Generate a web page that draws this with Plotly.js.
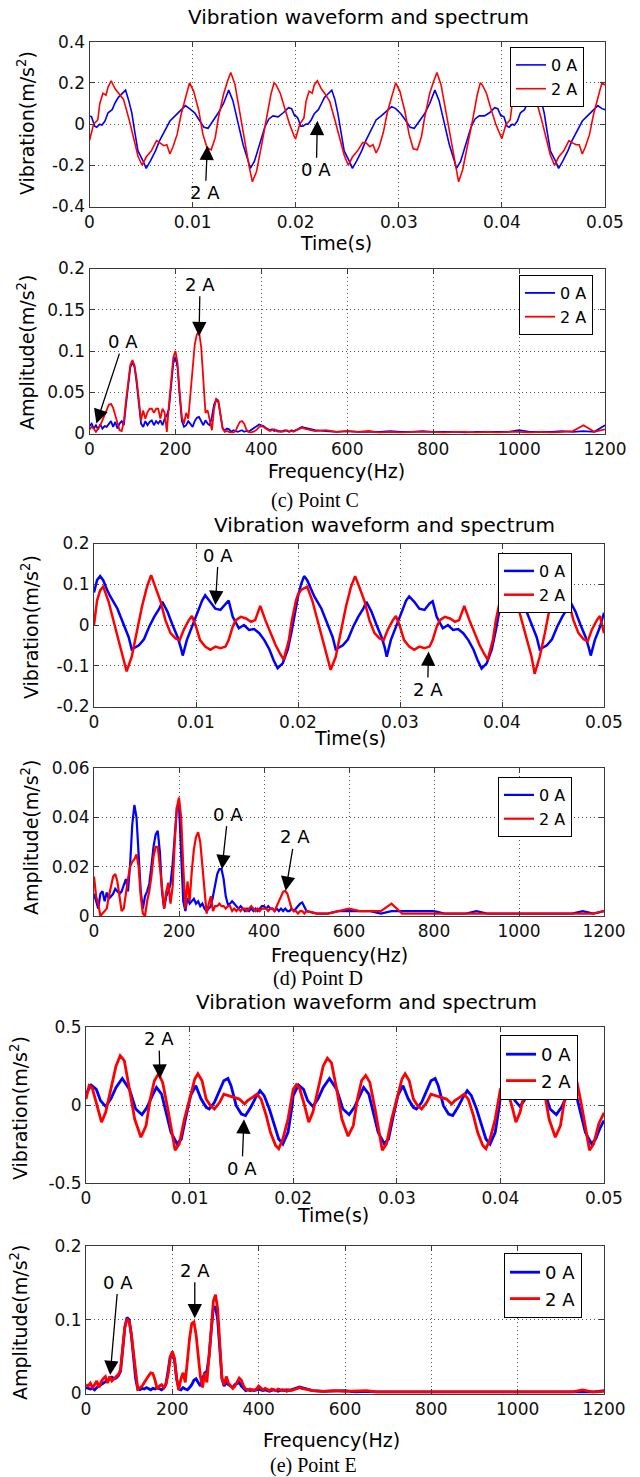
<!DOCTYPE html>
<html><head><meta charset="utf-8">
<script src="https://cdn.plot.ly/plotly-3.0.1.min.js"></script>
<style>html,body{margin:0;padding:0;background:#fff}#chart{width:640px;height:1477px}</style>
</head><body><div id="chart"></div>
<script>
// ---------------- DATA ----------------
// Point C waveform (time s, vibration m/s^2)
const tC0 = [0,0.0002,0.0005,0.0007,0.0010,0.0012,0.0015,0.0018,0.0022,0.0025,0.0028,0.0031,0.0035,0.0038,0.0041,0.0044,0.0047,0.0052,0.0055,0.0059,0.0064,0.0068,0.0073,0.0078,0.0083,0.0088,0.0093,0.0097,0.0102,0.0107,0.0111,0.0115,0.0120,0.0125,0.0130,0.0133,0.0135,0.0139,0.0144,0.0149,0.0154,0.0156,0.0160,0.0165,0.0170,0.0174,0.0178,0.0183,0.0188,0.0193,0.0196,0.0199,
0.0200,0.0202,0.0205,0.0207,0.0210,0.0212,0.0215,0.0218,0.0222,0.0225,0.0228,0.0231,0.0235,0.0238,0.0241,0.0244,0.0247,0.0252,0.0255,0.0259,0.0264,0.0268,0.0273,0.0278,0.0283,0.0288,0.0293,0.0297,0.0302,0.0307,0.0311,0.0315,0.0320,0.0325,0.0330,0.0333,0.0335,0.0339,0.0344,0.0349,0.0354,0.0356,0.0360,0.0365,0.0370,0.0374,0.0378,0.0383,0.0388,0.0393,0.0396,0.0399,
0.0400,0.0402,0.0405,0.0407,0.0410,0.0412,0.0415,0.0418,0.0422,0.0425,0.0428,0.0431,0.0435,0.0438,0.0441,0.0444,0.0447,0.0452,0.0455,0.0459,0.0464,0.0468,0.0473,0.0478,0.0483,0.0488,0.0493,0.0497,0.0500];
const vC0 = [0.04,0.035,-0.01,-0.015,0.00,-0.005,0.015,0.055,0.07,0.105,0.13,0.145,0.165,0.115,0.055,-0.04,-0.13,-0.18,-0.215,-0.18,-0.13,-0.08,-0.03,0.015,0.04,0.065,0.09,0.075,0.055,0.015,-0.015,-0.02,0.015,0.055,0.10,0.145,0.165,0.115,0.015,-0.10,-0.18,-0.215,-0.18,-0.10,-0.015,0.025,0.04,0.035,0.055,0.08,0.075,0.04,
0.04,0.03,-0.01,-0.01,0.00,0.00,0.02,0.05,0.07,0.10,0.13,0.145,0.165,0.12,0.05,-0.04,-0.13,-0.18,-0.215,-0.18,-0.13,-0.08,-0.03,0.02,0.04,0.065,0.085,0.075,0.05,0.015,-0.015,-0.02,0.015,0.05,0.10,0.14,0.165,0.115,0.01,-0.10,-0.18,-0.215,-0.18,-0.10,-0.015,0.025,0.04,0.04,0.055,0.08,0.075,0.04,
0.04,0.035,-0.01,-0.015,0.00,-0.005,0.015,0.055,0.07,0.105,0.13,0.145,0.165,0.115,0.055,-0.04,-0.13,-0.18,-0.215,-0.18,-0.13,-0.08,-0.03,0.015,0.04,0.065,0.09,0.075,0.07];
const tC2 = [0,0.0004,0.0008,0.0010,0.0013,0.0016,0.0018,0.0021,0.0025,0.0028,0.0033,0.0038,0.0043,0.0047,0.0051,0.0055,0.0060,0.0065,0.0068,0.0072,0.0075,0.0078,0.0081,0.0085,0.0089,0.0094,0.0097,0.0101,0.0106,0.0110,0.0114,0.0118,0.0122,0.0125,0.0130,0.0134,0.0137,0.0141,0.0146,0.0151,0.0155,0.0158,0.0162,0.0167,0.0172,0.0176,0.0179,0.0181,0.0185,0.0189,0.0194,0.0199,
0.0200,0.0204,0.0208,0.0210,0.0213,0.0216,0.0218,0.0221,0.0225,0.0228,0.0233,0.0238,0.0243,0.0247,0.0251,0.0255,0.0260,0.0265,0.0268,0.0272,0.0275,0.0278,0.0281,0.0285,0.0289,0.0294,0.0297,0.0301,0.0306,0.0310,0.0314,0.0318,0.0322,0.0325,0.0330,0.0334,0.0337,0.0341,0.0346,0.0351,0.0355,0.0358,0.0362,0.0367,0.0372,0.0376,0.0379,0.0381,0.0385,0.0389,0.0394,0.0399,
0.0400,0.0404,0.0408,0.0410,0.0413,0.0416,0.0418,0.0421,0.0425,0.0428,0.0433,0.0438,0.0443,0.0447,0.0451,0.0455,0.0460,0.0465,0.0468,0.0472,0.0475,0.0478,0.0481,0.0485,0.0489,0.0494,0.0497,0.0500];
const vC2 = [-0.08,0.00,0.02,0.10,0.15,0.14,0.18,0.21,0.17,0.15,0.12,0.03,-0.065,-0.155,-0.20,-0.16,-0.13,-0.08,-0.09,-0.105,-0.10,-0.145,-0.11,-0.05,0.05,0.15,0.20,0.16,0.065,-0.05,-0.115,-0.125,-0.065,0.03,0.145,0.21,0.25,0.195,0.05,-0.10,-0.21,-0.28,-0.23,-0.10,0.03,0.145,0.20,0.19,0.15,0.08,0.00,-0.065,
-0.07,0.00,0.03,0.11,0.16,0.15,0.19,0.21,0.17,0.15,0.11,0.02,-0.07,-0.15,-0.20,-0.16,-0.13,-0.09,-0.09,-0.11,-0.10,-0.14,-0.11,-0.04,0.06,0.15,0.20,0.16,0.06,-0.05,-0.12,-0.125,-0.06,0.03,0.15,0.21,0.25,0.19,0.05,-0.10,-0.21,-0.28,-0.22,-0.10,0.03,0.14,0.20,0.19,0.15,0.08,0.00,-0.06,
-0.07,0.00,0.02,0.10,0.15,0.15,0.18,0.21,0.17,0.15,0.12,0.03,-0.07,-0.15,-0.20,-0.16,-0.13,-0.08,-0.09,-0.10,-0.10,-0.145,-0.11,-0.05,0.05,0.15,0.20,0.19];

// Point D waveform
const tD0 = [0.0000,0.0003,0.0006,0.0009,0.0013,0.0016,0.0023,0.0029,0.0034,0.0037,0.0041,0.0044,0.0049,0.0054,0.0059,0.0064,0.0067,0.0072,0.0077,0.0082,0.0085,0.0087,0.0091,0.0096,0.0101,0.0106,0.0109,0.0114,0.0119,0.0124,0.0129,0.0132,0.0136,0.0142,0.0147,0.0152,0.0157,0.0162,0.0167,0.0172,0.0176,0.0180,0.0185,0.0190,0.0194,0.0198,
0.0200,0.0203,0.0206,0.0209,0.0213,0.0216,0.0223,0.0229,0.0234,0.0237,0.0241,0.0244,0.0249,0.0254,0.0259,0.0264,0.0267,0.0272,0.0277,0.0282,0.0285,0.0287,0.0291,0.0296,0.0301,0.0306,0.0309,0.0314,0.0319,0.0324,0.0329,0.0332,0.0336,0.0342,0.0347,0.0352,0.0357,0.0362,0.0367,0.0372,0.0376,0.0380,0.0385,0.0390,0.0394,0.0398,
0.0400,0.0403,0.0406,0.0409,0.0413,0.0416,0.0423,0.0429,0.0434,0.0437,0.0441,0.0444,0.0449,0.0454,0.0459,0.0464,0.0467,0.0472,0.0477,0.0482,0.0485,0.0487,0.0491,0.0496,0.0500];
const vD0 = [0.08,0.11,0.12,0.11,0.085,0.07,0.04,0.00,-0.03,-0.06,-0.055,-0.05,-0.035,-0.005,0.02,0.04,0.057,0.033,0.00,-0.03,-0.055,-0.075,-0.037,-0.005,0.03,0.06,0.073,0.057,0.04,0.037,0.053,0.06,0.02,-0.008,0.00,-0.012,-0.01,-0.02,-0.037,-0.06,-0.086,-0.106,-0.094,-0.06,-0.012,0.045,
0.07,0.10,0.12,0.11,0.085,0.07,0.04,0.00,-0.03,-0.06,-0.055,-0.05,-0.035,-0.005,0.02,0.04,0.057,0.033,0.00,-0.03,-0.055,-0.078,-0.037,-0.005,0.03,0.06,0.07,0.057,0.04,0.037,0.053,0.058,0.02,-0.008,0.00,-0.012,-0.01,-0.02,-0.037,-0.06,-0.086,-0.107,-0.094,-0.06,-0.012,0.045,
0.07,0.10,0.12,0.11,0.085,0.07,0.04,0.00,-0.03,-0.06,-0.055,-0.05,-0.035,-0.005,0.02,0.04,0.057,0.033,0.00,-0.03,-0.055,-0.075,-0.037,-0.005,0.03];
const tD2 = [0.0000,0.0003,0.0006,0.0009,0.0014,0.0019,0.0024,0.0029,0.0032,0.0037,0.0042,0.0047,0.0052,0.0056,0.0060,0.0065,0.0070,0.0075,0.0080,0.0084,0.0088,0.0093,0.0096,0.0100,0.0104,0.0109,0.0114,0.0119,0.0124,0.0129,0.0132,0.0136,0.0139,0.0144,0.0149,0.0154,0.0158,0.0163,0.0168,0.0173,0.0178,0.0183,0.0186,0.0191,0.0194,0.0198,
0.0200,0.0203,0.0206,0.0209,0.0214,0.0219,0.0224,0.0229,0.0232,0.0237,0.0242,0.0247,0.0252,0.0256,0.0260,0.0265,0.0270,0.0275,0.0280,0.0284,0.0288,0.0293,0.0296,0.0300,0.0304,0.0309,0.0314,0.0319,0.0324,0.0329,0.0332,0.0336,0.0339,0.0344,0.0349,0.0354,0.0358,0.0363,0.0368,0.0373,0.0378,0.0383,0.0386,0.0391,0.0394,0.0398,
0.0400,0.0403,0.0406,0.0409,0.0414,0.0419,0.0424,0.0429,0.0432,0.0437,0.0442,0.0447,0.0452,0.0456,0.0460,0.0465,0.0470,0.0475,0.0480,0.0484,0.0488,0.0493,0.0496,0.0500];
const vD2 = [0.00,0.06,0.085,0.094,0.06,0.012,-0.037,-0.078,-0.114,-0.078,-0.02,0.045,0.094,0.122,0.094,0.06,0.012,-0.02,-0.033,-0.037,-0.012,0.012,0.022,-0.004,-0.037,-0.053,-0.061,-0.053,-0.057,-0.053,-0.037,-0.004,0.012,0.02,0.016,0.008,0.012,0.047,0.012,-0.02,-0.049,-0.073,-0.085,-0.037,0.012,0.06,
0.075,0.086,0.09,0.094,0.06,0.012,-0.037,-0.078,-0.11,-0.078,-0.02,0.045,0.094,0.12,0.094,0.06,0.012,-0.02,-0.033,-0.037,-0.012,0.012,0.022,-0.004,-0.037,-0.053,-0.061,-0.053,-0.057,-0.053,-0.037,-0.004,0.012,0.02,0.016,0.008,0.012,0.047,0.012,-0.02,-0.049,-0.073,-0.085,-0.037,0.012,0.06,
0.075,0.086,0.09,0.094,0.06,0.012,-0.037,-0.078,-0.12,-0.078,-0.02,0.045,0.094,0.12,0.094,0.06,0.012,-0.02,-0.035,-0.04,-0.012,0.012,0.022,-0.02];

// Point E waveform
const tE0 = [0.0000,0.0005,0.0010,0.0014,0.0019,0.0024,0.0029,0.0035,0.0042,0.0048,0.0054,0.0059,0.0064,0.0068,0.0073,0.0077,0.0082,0.0088,0.0092,0.0096,0.0101,0.0106,0.0111,0.0116,0.0119,0.0124,0.0129,0.0133,0.0137,0.0140,0.0145,0.0150,0.0154,0.0159,0.0164,0.0168,0.0172,0.0177,0.0182,0.0186,0.0190,0.0195,0.0199,
0.0200,0.0205,0.0210,0.0214,0.0219,0.0224,0.0229,0.0235,0.0242,0.0248,0.0254,0.0259,0.0264,0.0268,0.0273,0.0277,0.0282,0.0288,0.0292,0.0296,0.0301,0.0306,0.0311,0.0316,0.0319,0.0324,0.0329,0.0333,0.0337,0.0340,0.0345,0.0350,0.0354,0.0359,0.0364,0.0368,0.0372,0.0377,0.0382,0.0386,0.0390,0.0395,0.0399,
0.0400,0.0405,0.0410,0.0414,0.0419,0.0424,0.0429,0.0435,0.0442,0.0448,0.0454,0.0459,0.0464,0.0468,0.0473,0.0477,0.0482,0.0488,0.0492,0.0496,0.0500];
const vE0 = [0.07,0.128,0.10,0.028,-0.01,0.04,0.113,0.17,0.10,-0.026,-0.062,-0.015,0.06,0.113,0.07,-0.047,-0.175,-0.25,-0.218,-0.09,0.06,0.124,0.04,-0.015,-0.026,0.017,0.092,0.156,0.17,0.124,-0.004,-0.058,-0.068,-0.015,0.05,0.092,0.06,-0.026,-0.132,-0.218,-0.25,-0.175,-0.004,
0.06,0.128,0.10,0.028,-0.01,0.04,0.113,0.17,0.10,-0.026,-0.062,-0.015,0.06,0.113,0.07,-0.047,-0.175,-0.25,-0.218,-0.09,0.06,0.124,0.04,-0.015,-0.026,0.017,0.092,0.156,0.17,0.124,-0.004,-0.058,-0.068,-0.015,0.05,0.092,0.06,-0.026,-0.132,-0.218,-0.25,-0.175,-0.004,
0.06,0.128,0.10,0.028,-0.01,0.04,0.113,0.17,0.10,-0.026,-0.062,-0.015,0.06,0.113,0.07,-0.047,-0.175,-0.25,-0.218,-0.15,-0.10];
const tE2 = [0.0000,0.0003,0.0006,0.0011,0.0015,0.0019,0.0024,0.0029,0.0033,0.0037,0.0042,0.0047,0.0053,0.0058,0.0062,0.0066,0.0070,0.0074,0.0079,0.0083,0.0086,0.0090,0.0095,0.0100,0.0105,0.0108,0.0112,0.0116,0.0120,0.0124,0.0129,0.0133,0.0138,0.0143,0.0148,0.0153,0.0156,0.0161,0.0165,0.0169,0.0174,0.0178,0.0183,0.0186,0.0190,0.0195,0.0199,
0.0200,0.0203,0.0206,0.0211,0.0215,0.0219,0.0224,0.0229,0.0233,0.0237,0.0242,0.0247,0.0253,0.0258,0.0262,0.0266,0.0270,0.0274,0.0279,0.0283,0.0286,0.0290,0.0295,0.0300,0.0305,0.0308,0.0312,0.0316,0.0320,0.0324,0.0329,0.0333,0.0338,0.0343,0.0348,0.0353,0.0356,0.0361,0.0365,0.0369,0.0374,0.0378,0.0383,0.0386,0.0390,0.0395,0.0399,
0.0400,0.0403,0.0406,0.0411,0.0415,0.0419,0.0424,0.0429,0.0433,0.0437,0.0442,0.0447,0.0453,0.0458,0.0462,0.0466,0.0470,0.0474,0.0479,0.0483,0.0486,0.0490,0.0495,0.0500];
const vE2 = [0.038,0.124,0.11,-0.004,-0.11,-0.047,0.10,0.25,0.316,0.284,0.10,-0.09,-0.207,-0.132,0.038,0.156,0.20,0.145,-0.026,-0.175,-0.29,-0.25,-0.09,0.038,0.167,0.20,0.156,0.038,-0.004,-0.026,0.017,0.07,0.06,0.05,0.038,0.006,0.028,0.05,0.07,0.038,-0.068,-0.175,-0.26,-0.28,-0.218,-0.09,0.06,
0.10,0.13,0.11,-0.004,-0.11,-0.047,0.10,0.25,0.30,0.27,0.10,-0.09,-0.20,-0.132,0.038,0.156,0.19,0.145,-0.026,-0.175,-0.29,-0.25,-0.09,0.038,0.167,0.20,0.156,0.038,-0.004,-0.026,0.017,0.07,0.06,0.05,0.038,0.006,0.028,0.05,0.07,0.038,-0.068,-0.175,-0.26,-0.28,-0.218,-0.09,0.06,
0.10,0.13,0.11,-0.004,-0.11,-0.047,0.10,0.25,0.31,0.28,0.10,-0.09,-0.207,-0.132,0.038,0.156,0.20,0.145,-0.026,-0.175,-0.29,-0.25,-0.12,-0.05];

// Spectrum frequency grid (Hz)
const freq = [0,5,10,15,20,25,30,35,40,45,50,55,60,65,70,75,80,85,90,95,
100,105,110,115,120,125,130,135,140,145,150,155,160,165,170,175,180,185,190,195,
200,205,210,215,220,225,230,235,240,245,250,255,260,265,270,275,280,285,290,295,
300,305,310,315,320,325,330,335,340,345,350,355,360,365,370,375,380,385,390,395,
400,405,410,415,420,425,430,435,440,445,450,455,460,465,470,475,480,485,490,495,500,
525,550,575,600,625,650,675,700,725,750,775,800,825,850,875,900,925,950,975,1000,1025,1050,1075,1100,1125,1150,1175,1200];

// Point C spectrum amplitude
const aC0 = [0.009,0.012,0.006,0.010,0.005,0.011,0.006,0.009,0.008,0.012,0.015,0.008,0.014,0.006,0.012,0.015,0.010,0.035,0.060,0.080,
0.087,0.080,0.060,0.035,0.012,0.008,0.015,0.010,0.014,0.016,0.010,0.015,0.012,0.016,0.010,0.018,0.022,0.030,0.055,0.085,
0.093,0.080,0.045,0.015,0.008,0.010,0.015,0.012,0.008,0.015,0.019,0.020,0.015,0.010,0.016,0.012,0.010,0.020,0.035,0.041,
0.038,0.020,0.006,0.004,0.006,0.005,0.002,0.004,0.003,0.002,0.003,0.004,0.002,0.003,0.002,0.004,0.006,0.008,0.010,0.011,
0.010,0.009,0.007,0.005,0.004,0.005,0.003,0.004,0.003,0.002,0.003,0.004,0.003,0.002,0.004,0.003,0.004,0.005,0.007,0.008,0.007,
0.004,0.003,0.002,0.003,0.002,0.002,0.002,0.003,0.002,0.002,0.003,0.002,0.002,0.002,0.001,0.002,0.002,0.002,0.002,0.004,0.002,0.002,0.002,0.003,0.002,0.003,0.002,0.010];
const aC2 = [0.005,0.008,0.006,0.002,0.006,0.010,0.016,0.022,0.030,0.035,0.036,0.031,0.022,0.012,0.004,0.003,0.015,0.040,0.065,0.083,
0.089,0.082,0.065,0.040,0.016,0.028,0.018,0.026,0.030,0.030,0.025,0.030,0.030,0.018,0.030,0.025,0.002,0.035,0.060,0.092,
0.100,0.085,0.050,0.020,0.012,0.025,0.018,0.050,0.080,0.108,0.120,0.123,0.105,0.070,0.025,0.028,0.015,0.004,0.030,0.042,
0.040,0.022,0.006,0.002,0.003,0.002,0.001,0.001,0.003,0.009,0.014,0.015,0.012,0.005,0.002,0.001,0.002,0.003,0.005,0.008,
0.009,0.008,0.006,0.004,0.003,0.004,0.005,0.003,0.002,0.003,0.002,0.003,0.004,0.002,0.003,0.002,0.004,0.005,0.006,0.007,0.006,
0.003,0.004,0.002,0.003,0.002,0.003,0.001,0.002,0.001,0.002,0.002,0.002,0.001,0.002,0.002,0.001,0.002,0.001,0.002,0.002,0.001,0.002,0.001,0.002,0.003,0.010,0.002,0.005];

// Point D spectrum amplitude
const aD0 = [0.009,0.006,0.003,0.009,0.010,0.006,0.0095,0.007,0.008,0.009,0.011,0.010,0.009,0.010,0.013,0.015,0.010,0.021,0.037,0.045,
0.040,0.025,0.010,0.003,0.008,0.010,0.013,0.020,0.028,0.033,0.0345,0.026,0.010,0.003,0.008,0.010,0.013,0.021,0.0345,0.044,
0.045,0.025,0.006,0.002,0.0074,0.005,0.006,0.007,0.005,0.006,0.004,0.005,0.003,0.002,0.003,0.004,0.008,0.013,0.017,0.019,
0.019,0.015,0.008,0.0047,0.005,0.006,0.005,0.004,0.003,0.004,0.003,0.002,0.003,0.002,0.003,0.002,0.003,0.002,0.003,0.004,
0.004,0.003,0.004,0.003,0.003,0.002,0.003,0.002,0.003,0.002,0.003,0.002,0.002,0.003,0.002,0.003,0.004,0.005,0.0055,0.004,0.002,
0.001,0.001,0.002,0.002,0.002,0.002,0.001,0.002,0.002,0.002,0.002,0.002,0.001,0.001,0.001,0.002,0.001,0.001,0.001,0.001,0.001,0.001,0.001,0.001,0.001,0.002,0.001,0.002];
const aD2 = [0.016,0.008,0.005,0.000,0.001,0.002,0.003,0.008,0.012,0.016,0.017,0.014,0.008,0.002,0.003,0.010,0.015,0.020,0.022,0.023,
0.025,0.020,0.008,0.001,0.000,0.006,0.010,0.016,0.024,0.028,0.028,0.020,0.010,0.003,0.010,0.0135,0.005,0.012,0.030,0.044,
0.048,0.040,0.020,0.003,0.014,0.006,0.018,0.027,0.032,0.034,0.030,0.020,0.008,0.001,0.005,0.008,0.002,0.004,0.004,0.005,
0.004,0.004,0.003,0.004,0.004,0.002,0.003,0.002,0.003,0.002,0.003,0.003,0.002,0.003,0.004,0.003,0.002,0.003,0.002,0.003,
0.003,0.003,0.002,0.003,0.003,0.002,0.004,0.006,0.008,0.0098,0.0102,0.009,0.006,0.003,0.002,0.002,0.001,0.002,0.002,0.001,0.002,
0.001,0.001,0.002,0.003,0.002,0.002,0.002,0.005,0.001,0.001,0.001,0.001,0.001,0.001,0.001,0.001,0.001,0.001,0.001,0.001,0.001,0.001,0.001,0.001,0.001,0.001,0.001,0.002];

// Point E spectrum amplitude
const aE0 = [0.008,0.007,0.006,0.007,0.005,0.008,0.010,0.012,0.015,0.016,0.018,0.020,0.022,0.020,0.021,0.024,0.030,0.060,0.090,0.103,
0.100,0.080,0.050,0.020,0.006,0.005,0.007,0.006,0.008,0.007,0.005,0.007,0.006,0.008,0.006,0.005,0.007,0.012,0.030,0.050,
0.055,0.045,0.020,0.006,0.005,0.008,0.006,0.005,0.008,0.012,0.018,0.020,0.015,0.010,0.020,0.028,0.030,0.050,0.085,0.115,
0.118,0.100,0.060,0.020,0.010,0.015,0.012,0.010,0.008,0.012,0.013,0.015,0.010,0.007,0.004,0.005,0.004,0.005,0.004,0.005,
0.006,0.005,0.004,0.005,0.004,0.003,0.004,0.005,0.004,0.003,0.004,0.005,0.004,0.005,0.004,0.005,0.006,0.007,0.008,0.009,0.008,
0.004,0.003,0.003,0.004,0.002,0.003,0.002,0.002,0.002,0.002,0.002,0.002,0.002,0.002,0.002,0.003,0.002,0.002,0.002,0.002,0.002,0.002,0.002,0.002,0.002,0.003,0.002,0.004];
const aE2 = [0.012,0.010,0.014,0.008,0.012,0.017,0.008,0.016,0.020,0.023,0.014,0.023,0.017,0.020,0.024,0.026,0.032,0.060,0.090,0.101,
0.098,0.080,0.055,0.023,0.006,0.008,0.010,0.015,0.020,0.024,0.028,0.027,0.018,0.006,0.010,0.012,0.008,0.013,0.025,0.047,
0.057,0.048,0.020,0.005,0.020,0.028,0.015,0.046,0.075,0.095,0.097,0.080,0.050,0.023,0.008,0.028,0.015,0.045,0.085,0.125,
0.134,0.115,0.070,0.020,0.012,0.023,0.014,0.010,0.007,0.010,0.015,0.021,0.018,0.010,0.006,0.005,0.006,0.004,0.005,0.006,
0.010,0.008,0.005,0.007,0.006,0.004,0.006,0.005,0.004,0.006,0.005,0.004,0.005,0.003,0.005,0.004,0.005,0.006,0.007,0.008,0.007,
0.004,0.003,0.004,0.003,0.003,0.004,0.002,0.002,0.002,0.002,0.002,0.002,0.002,0.002,0.002,0.002,0.002,0.002,0.002,0.002,0.002,0.002,0.002,0.002,0.002,0.005,0.002,0.003];

// Tick values / labels
const timeTicks = [0,0.01,0.02,0.03,0.04,0.05];
const timeTickText = ['0','0.01','0.02','0.03','0.04','0.05'];
const freqTicks = [0,200,400,600,800,1000,1200];
const freqTickText = ['0','200','400','600','800','1000','1200'];
const yCwTicks = [-0.4,-0.2,0,0.2,0.4], yCwText = ['-0.4','-0.2','0','0.2','0.4'];
const yCsTicks = [0,0.05,0.1,0.15,0.2], yCsText = ['0','0.05','0.1','0.15','0.2'];
const yDwTicks = [-0.2,-0.1,0,0.1,0.2], yDwText = ['-0.2','-0.1','0','0.1','0.2'];
const yDsTicks = [0,0.02,0.04,0.06], yDsText = ['0','0.02','0.04','0.06'];
const yEwTicks = [-0.5,0,0.5], yEwText = ['-0.5','0','0.5'];
const yEsTicks = [0,0.1,0.2], yEsText = ['0','0.1','0.2'];
const seriesNames = ['0 A','2 A'];
const chartTitle = 'Vibration waveform and spectrum';
const captions = ['(c) Point C','(d) Point D','(e) Point E'];

// ---------------- LAYOUT ----------------
const W = 640, H = 1477;
const FONT = 'DejaVu Sans, sans-serif';
const BLUE = '#0000ff', RED = '#ff0000';

const panels = [
  {box:[89.5,605,41.7,206.5], x:[tC0,tC2], y:[vC0,vC2], xr:[0,0.05], yr:[-0.4,0.4], xt:timeTicks, xtt:timeTickText, yt:yCwTicks, ytt:yCwText, lw:1.6, leg:[510,47], legFont:16, xtitle:'Time(s)', xtpos:[336,243], ytitle:'Vibration(m/s<sup>2</sup>)', ytpos:[26,123]},
  {box:[89.5,605,268.5,433.5], x:[freq,freq], y:[aC0,aC2], xr:[0,1200], yr:[0,0.2], xt:freqTicks, xtt:freqTickText, yt:yCsTicks, ytt:yCsText, lw:1.8, leg:[519,275], legFont:16, xtitle:'Frequency(Hz)', xtpos:[336,471], ytitle:'Amplitude(m/s<sup>2</sup>)', ytpos:[26,353]},
  {box:[94,604,543.5,706.5], x:[tD0,tD2], y:[vD0,vD2], xr:[0,0.05], yr:[-0.2,0.2], xt:timeTicks, xtt:timeTickText, yt:yDwTicks, ytt:yDwText, lw:2.5, leg:[498,553], legFont:16, xtitle:'Time(s)', xtpos:[350,738], ytitle:'Vibration(m/s<sup>2</sup>)', ytpos:[30,627]},
  {box:[94,604,768,916], x:[freq,freq], y:[aD0,aD2], xr:[0,1200], yr:[0,0.06], xt:freqTicks, xtt:freqTickText, yt:yDsTicks, ytt:yDsText, lw:2.2, leg:[498,777], legFont:16, xtitle:'Frequency(Hz)', xtpos:[339,955], ytitle:'Amplitude(m/s<sup>2</sup>)', ytpos:[30,838]},
  {box:[86,604,1027,1183], x:[tE0,tE2], y:[vE0,vE2], xr:[0,0.05], yr:[-0.5,0.5], xt:timeTicks, xtt:timeTickText, yt:yEwTicks, ytt:yEwText, lw:2.8, leg:[500,1035], legFont:18, xtitle:'Time(s)', xtpos:[333,1215], ytitle:'Vibration(m/s<sup>2</sup>)', ytpos:[19,1108]},
  {box:[86,604,1246,1393.5], x:[freq,freq], y:[aE0,aE2], xr:[0,1200], yr:[0,0.2], xt:freqTicks, xtt:freqTickText, yt:yEsTicks, ytt:yEsText, lw:2.8, leg:[504,1253], legFont:18, xtitle:'Frequency(Hz)', xtpos:[331,1440], ytitle:'Amplitude(m/s<sup>2</sup>)', ytpos:[19,1323]}
];

// arrow annotations: [panel index, text, x(data), y(data), ax(px), ay(px)]
const arrows = [
  [0,'2 A',0.01143,-0.105,-2,47],
  [0,'0 A',0.0221,0.016,-1,49],
  [1,'2 A',255,0.118,1,-52],
  [1,'0 A',16,0.012,27,-82],
  [2,'0 A',0.0119,0.049,3,-50],
  [2,'2 A',0.0328,-0.065,-1,38],
  [3,'0 A',301,0.019,6,-55],
  [3,'2 A',451,0.0102,9,-54],
  [4,'2 A',0.00714,0.169,-1,-40],
  [4,'0 A',0.01525,-0.092,-2,49],
  [5,'0 A',56,0.025,8,-93],
  [5,'2 A',252,0.102,0,-48]
];
const titlePos = [[358,17],[384,525],[366,1002]];
const captionPos = [[315,500],[318,979],[313,1465]];

const px = v => v / W;
const py = v => 1 - v / H;

const layout = {
  width: W, height: H,
  margin: {l:0, r:0, t:0, b:0},
  paper_bgcolor: '#fff', plot_bgcolor: '#fff',
  font: {family: FONT, size: 16, color: '#000'},
  annotations: [], showlegend: true
};
const traces = [];

panels.forEach((p, i) => {
  const k = i === 0 ? '' : String(i + 1);
  const [l, r, t, b] = p.box;
  const axCommon = {
    showline: true, linecolor: '#3a3a3a', linewidth: 1, mirror: 'ticks',
    ticks: 'inside', ticklen: 5, tickcolor: '#3a3a3a', tickwidth: 1,
    showgrid: true, gridcolor: '#555555', griddash: '1px,3px', gridwidth: 1,
    zeroline: false, tickfont: {family: FONT, size: 17, color: '#111'},
    fixedrange: true, tickmode: 'array'
  };
  layout['xaxis' + k] = Object.assign({}, axCommon, {
    domain: [px(l), px(r)], anchor: 'y' + k, range: p.xr, autorange: false,
    tickvals: p.xt, ticktext: p.xtt
  });
  layout['yaxis' + k] = Object.assign({}, axCommon, {
    domain: [py(b), py(t)], anchor: 'x' + k, range: p.yr, autorange: false,
    tickvals: p.yt, ticktext: p.ytt
  });
  const legName = 'legend' + k;
  layout[legName] = {
    x: px(p.leg[0]), y: py(p.leg[1]), xanchor: 'left', yanchor: 'top',
    xref: 'paper', yref: 'paper',
    bgcolor: '#fff', bordercolor: '#000', borderwidth: 1,
    font: {family: FONT, size: p.legFont, color: '#000'}, tracegroupgap: 0
  };
  [BLUE, RED].forEach((c, j) => {
    traces.push({
      type: 'scatter', mode: 'lines', x: p.x[j], y: p.y[j],
      xaxis: 'x' + k, yaxis: 'y' + k, name: seriesNames[j], legend: legName,
      line: {color: c, width: p.lw}, hoverinfo: 'skip'
    });
  });
  layout.annotations.push({
    xref: 'paper', yref: 'paper', x: px(p.xtpos[0]), y: py(p.xtpos[1]),
    xanchor: 'center', yanchor: 'middle', showarrow: false,
    text: p.xtitle, font: {family: FONT, size: 19, color: '#000'}
  });
  layout.annotations.push({
    xref: 'paper', yref: 'paper', x: px(p.ytpos[0]), y: py(p.ytpos[1]),
    xanchor: 'center', yanchor: 'middle', showarrow: false, textangle: -90,
    text: p.ytitle, font: {family: FONT, size: 19, color: '#000'}
  });
});

titlePos.forEach(([x, y]) => layout.annotations.push({
  xref: 'paper', yref: 'paper', x: px(x), y: py(y), xanchor: 'center', yanchor: 'middle',
  showarrow: false, text: chartTitle, font: {family: FONT, size: 20, color: '#000'}
}));
captionPos.forEach(([x, y], i) => layout.annotations.push({
  xref: 'paper', yref: 'paper', x: px(x), y: py(y), xanchor: 'center', yanchor: 'middle',
  showarrow: false, text: captions[i], font: {family: 'Liberation Serif, serif', size: 20, color: '#000'}
}));
arrows.forEach(([pi, txt, x, y, ax, ay]) => {
  const k = pi === 0 ? '' : String(pi + 1);
  layout.annotations.push({
    xref: 'x' + k, yref: 'y' + k, x: x, y: y, ax: ax, ay: ay,
    text: txt, showarrow: true, arrowhead: 2, arrowsize: 2.2, arrowwidth: 1.3,
    arrowcolor: '#000', standoff: 0, font: {family: FONT, size: 18, color: '#000'}
  });
});

Plotly.newPlot('chart', traces, layout, {staticPlot: true, displayModeBar: false});
</script>
</body></html>
